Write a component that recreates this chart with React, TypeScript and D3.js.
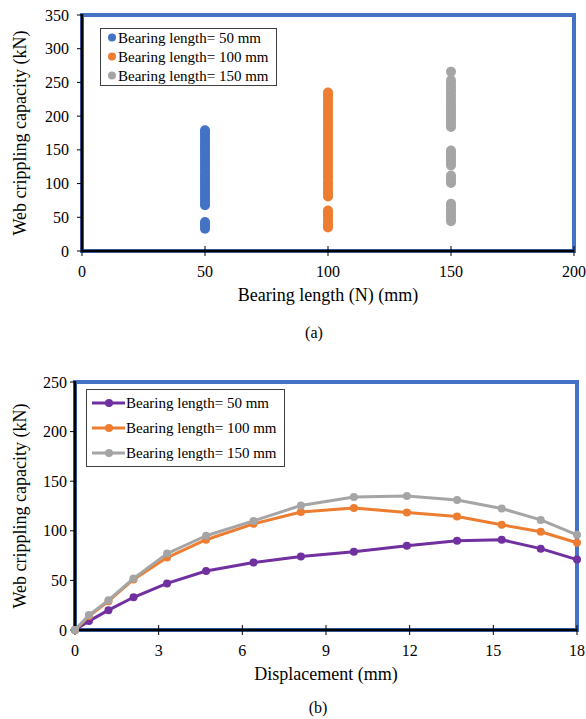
import React from 'react';
import * as d3 from 'd3';

const W = 586;
const H = 719;
const FONT = '"Liberation Serif", "Times New Roman", serif';
const BORDER = '#4472C4';

// (a) capacity vs bearing length
const bearingLengths = [50, 100, 150];
const capacity50 = [33, 37, 40, 43, 68, 72, 76, 80, 84, 88, 92, 96, 100, 104, 108, 112, 116, 121, 125, 129, 133, 137, 141, 145, 149, 153, 157, 161, 165, 169, 173, 176, 179];
const capacity100 = [35, 38, 42, 46, 50, 54, 57, 60, 81, 85, 89, 93, 98, 102, 107, 111, 116, 120, 125, 129, 134, 138, 143, 147, 152, 156, 161, 165, 170, 174, 179, 183, 188, 192, 197, 201, 206, 210, 215, 219, 224, 228, 232, 235];
const capacity150 = [44, 47, 51, 55, 59, 63, 67, 70, 101, 105, 108, 112, 127, 131, 135, 139, 143, 146, 149, 184, 188, 192, 197, 201, 205, 210, 214, 218, 223, 227, 231, 236, 240, 244, 249, 253, 266];
const scatterColors = ['#4472C4', '#ED7D31', '#A5A5A5'];
const seriesLabels = ['Bearing length= 50 mm', 'Bearing length= 100 mm', 'Bearing length= 150 mm'];
const xTicksA = [0, 50, 100, 150, 200];
const yTicksA = [0, 50, 100, 150, 200, 250, 300, 350];

// (b) load–displacement curves
const displacement = [0, 0.5, 1.2, 2.1, 3.3, 4.7, 6.4, 8.1, 10, 11.9, 13.7, 15.3, 16.7, 18];
const load50 = [0, 9, 20, 33, 47, 59.5, 68, 74, 79, 85, 90, 91, 82, 71];
const load100 = [0, 14, 29, 51, 73, 91, 107, 119, 123, 118.5, 114.5, 106, 99, 88];
const load150 = [0, 15, 30, 52, 77, 95, 110, 125.5, 134, 135, 131, 122.5, 111, 96];
const lineColors = ['#7030A0', '#ED7D31', '#A5A5A5'];
const xTicksB = [0, 3, 6, 9, 12, 15, 18];
const yTicksB = [0, 50, 100, 150, 200, 250];

type Box = { left: number; right: number; top: number; bottom: number };

function Frame({ box, x, y, xTicks, yTicks, xTitle, yTitle, caption, captionX, captionY, labelGap }: {
  box: Box;
  x: d3.ScaleLinear<number, number>;
  y: d3.ScaleLinear<number, number>;
  xTicks: number[];
  yTicks: number[];
  xTitle: string;
  yTitle: string;
  caption: string;
  captionX: number;
  captionY: number;
  labelGap: number;
}) {
  const midX = (box.left + box.right) / 2;
  const midY = (box.top + box.bottom) / 2;
  return (
    <g fontFamily={FONT} fill="#000">
      <rect x={box.left} y={box.top} width={box.right - box.left} height={box.bottom - box.top}
        fill="none" stroke={BORDER} strokeWidth={4} />
      <line x1={box.left} x2={box.left} y1={box.top - 1} y2={box.bottom} stroke="#000" strokeWidth={2.5} />
      <line x1={box.left} x2={box.right} y1={box.bottom} y2={box.bottom} stroke="#000" strokeWidth={2.5} />
      {yTicks.map((t) => (
        <g key={'y' + t}>
          <line x1={box.left - 5} x2={box.left} y1={y(t)} y2={y(t)} stroke="#000" strokeWidth={1} />
          <text x={box.left - labelGap} y={y(t)} dy="0.35em" textAnchor="end" fontSize={16}>{t}</text>
        </g>
      ))}
      {xTicks.map((t) => (
        <g key={'x' + t}>
          <line x1={x(t)} x2={x(t)} y1={box.bottom - 5} y2={box.bottom + 5} stroke="#000" strokeWidth={1} />
          <text x={x(t)} y={box.bottom + 26} textAnchor="middle" fontSize={16}>{t}</text>
        </g>
      ))}
      <text x={midX} y={box.bottom + 50} textAnchor="middle" fontSize={18}>{xTitle}</text>
      <text transform={`translate(26,${midY}) rotate(-90)`} textAnchor="middle" fontSize={18}>{yTitle}</text>
      <text x={captionX} y={captionY} textAnchor="middle" fontSize={16}>{caption}</text>
    </g>
  );
}

function ScatterChart() {
  const box: Box = { left: 82, right: 574, top: 15, bottom: 251 };
  const x = d3.scaleLinear().domain([0, 200]).range([box.left, box.right]);
  const y = d3.scaleLinear().domain([0, 350]).range([box.bottom, box.top]);
  const groups = [capacity50, capacity100, capacity150];
  return (
    <g>
      <Frame box={box} x={x} y={y} xTicks={xTicksA} yTicks={yTicksA}
        xTitle="Bearing length (N) (mm)" yTitle="Web crippling capacity (kN)"
        caption="(a)" captionX={314} captionY={338} labelGap={13} />
      {groups.map((vals, i) => (
        <g key={i} fill={scatterColors[i]}>
          {vals.map((v, j) => (
            <circle key={j} cx={x(bearingLengths[i])} cy={y(v)} r={5} />
          ))}
        </g>
      ))}
      <g fontFamily={FONT}>
        <rect x={100.5} y={28.5} width={176} height={57} fill="#fff" stroke="#404040" strokeWidth={1} />
        {seriesLabels.map((s, i) => (
          <g key={s} transform={`translate(0,${37.5 + i * 19})`}>
            <circle cx={112} cy={0} r={4} fill={scatterColors[i]} />
            <text x={118} y={0} dy="0.35em" fontSize={15} fill="#000">{s}</text>
          </g>
        ))}
      </g>
    </g>
  );
}

function LineChart() {
  const box: Box = { left: 75, right: 577, top: 382, bottom: 630 };
  const x = d3.scaleLinear().domain([0, 18]).range([box.left, box.right]);
  const y = d3.scaleLinear().domain([0, 250]).range([box.bottom, box.top]);
  const series = [load50, load100, load150];
  const line = d3.line<number>().x((_, i) => x(displacement[i])).y((d) => y(d));
  return (
    <g>
      <Frame box={box} x={x} y={y} xTicks={xTicksB} yTicks={yTicksB}
        xTitle="Displacement (mm)" yTitle="Web crippling capacity (kN)"
        caption="(b)" captionX={318} captionY={713} labelGap={8} />
      {series.map((vals, i) => (
        <g key={i}>
          <path d={line(vals) || ''} fill="none" stroke={lineColors[i]} strokeWidth={3} strokeLinejoin="round" />
          {vals.map((v, j) => (
            <circle key={j} cx={x(displacement[j])} cy={y(v)} r={4} fill={lineColors[i]} />
          ))}
        </g>
      ))}
      <g fontFamily={FONT}>
        <rect x={86.5} y={389.5} width={198} height={77} fill="#fff" stroke="#404040" strokeWidth={1} />
        {seriesLabels.map((s, i) => (
          <g key={s} transform={`translate(0,${403 + i * 25})`}>
            <line x1={92} x2={125} y1={0} y2={0} stroke={lineColors[i]} strokeWidth={3} />
            <circle cx={109} cy={0} r={4} fill={lineColors[i]} />
            <text x={126} y={0} dy="0.35em" fontSize={15} fill="#000">{s}</text>
          </g>
        ))}
      </g>
    </g>
  );
}

export default function App() {
  return (
    <svg width={W} height={H} style={{ position: 'absolute', left: 0, top: 0, background: '#fff' }}>
      <rect width={W} height={H} fill="#fff" />
      <ScatterChart />
      <LineChart />
    </svg>
  );
}
